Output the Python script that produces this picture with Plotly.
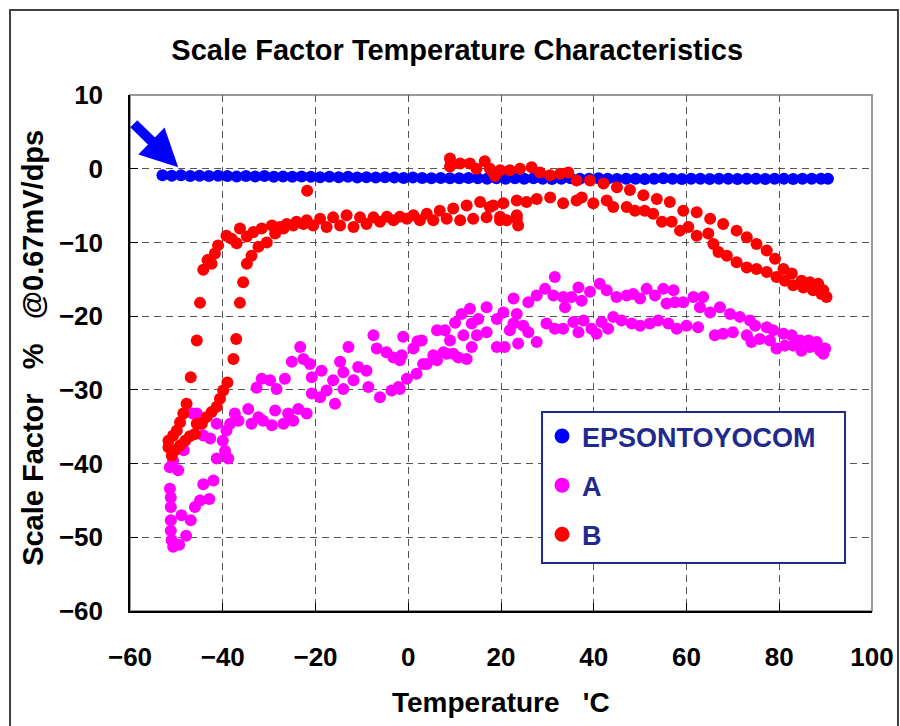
import plotly.graph_objects as go

# ---------------- data ----------------
epson_t = [-53, -51, -49, -47, -45, -43, -41, -39, -37, -35, -33, -31, -29, -27, -25, -23, -21, -19, -17, -15,
           -13, -11, -9, -7, -5, -3, -1, 1, 3, 5, 7, 9, 11, 13, 15, 17, 19, 21, 23, 25,
           27, 29, 31, 33, 35, 37, 39, 41, 43, 45, 47, 49, 51, 53, 55, 57, 59, 61, 63, 65,
           67, 69, 71, 73, 75, 77, 79, 81, 83, 85, 87, 89, 90.5]
epson_v = [-0.9, -0.95, -0.9, -1.0, -0.95, -1.0, -0.95, -1.0, -1.05, -1.0, -1.05, -1.0, -1.1, -1.05, -1.1, -1.05, -1.1, -1.15, -1.1, -1.15,
           -1.1, -1.2, -1.15, -1.2, -1.15, -1.2, -1.25, -1.2, -1.25, -1.3, -1.25, -1.3, -1.3, -1.25, -1.3, -1.35, -1.3, -1.35, -1.3, -1.35,
           -1.3, -1.35, -1.4, -1.35, -1.3, -1.35, -1.35, -1.3, -1.35, -1.4, -1.35, -1.35, -1.4, -1.35, -1.3, -1.35, -1.4, -1.35, -1.35, -1.4,
           -1.35, -1.35, -1.4, -1.35, -1.35, -1.4, -1.35, -1.35, -1.4, -1.35, -1.35, -1.35, -1.35]

a_t = [-51.4, -51.2, -51.2, -51.2, -51.2, -51.0, -50.7, -49.4, -47.9, -48.9, -46.9, -46.0, -44.9, -42.9, -44.2, -42.0,
       -51.4, -49.6, -50.7, -48.4, -41.3, -38.8, -39.5, -40.0, -42.7, -44.2, -45.6, -46.5, -44.9, -41.3, -39.2, -37.4,
       -38.4, -36.6, -34.5, -33.8, -32.3, -31.3, -29.4, -28.7, -26.9, -25.9, -24.8, -23.7, -21.9, -32.7, -31.6, -29.8,
       -28.4, -26.6, -25.1, -23.3, -22.6, -21.2, -20.8, -20.8, -18.7, -17.6, -19.0, -15.8, -16.2, -14.7, -14.0, -12.9,
       -14.0, -11.8, -10.8, -9.0, -8.6, -7.5, -6.8, -6.1, -4.7, -3.6, -3.2, -2.1, -1.1, -1.4, -0.3, 1.1, 1.8, 2.0, -1.8, -1.8,
       2.9, 4.0, 3.2, 5.4, 6.2, 6.2, 7.6, 7.9, 8.3, 9.7, 10.1, 9.0, 10.8, 11.5, 11.9, 12.6, 13.3, 13.7, 13.7, 15.1,
       14.8, 16.9, 16.9, 19.1, 19.1, 20.5, 20.8, 21.9, 22.7, 22.7, 23.4, 23.7, 24.8, 25.9, 25.9, 27.7, 27.7, 29.5,
       29.8, 31.3, 31.6, 31.6, 33.4, 33.8, 33.4, 35.2, 35.6, 36.7, 36.7, 37.4, 37.8, 39.2, 39.5, 40.6, 41.3, 41.7,
       42.8, 43.1, 44.2, 44.9, 46.0, 47.1, 48.2, 48.5, 50.0, 50.0, 51.4, 52.1, 53.2, 53.9, 55.0, 55.7, 56.1, 57.2,
       57.5, 57.9, 59.3, 60.0, 61.5, 62.5, 62.9, 63.6, 65.1, 66.1, 67.2, 67.9, 69.4, 70.0, 71.5, 73.0, 73.7, 74.8,
       74.0, 75.8, 77.3, 78.7, 78.0, 79.4, 80.9, 81.2, 82.7, 83.0, 84.5, 84.8, 86.3, 86.6, 88.1, 88.8, 89.9, 89.5]
a_v = [-43.4, -44.6, -45.9, -47.7, -49.1, -50.4, -51.3, -51.0, -49.8, -47.0, -47.7, -45.9, -45.0, -44.8, -42.8, -42.3,
       -40.5, -40.9, -39.6, -38.2, -39.3, -39.3, -38.3, -36.9, -36.6, -36.2, -33.2, -33.2, -34.6, -34.6, -35.5, -33.2,
       -34.6, -34.2, -32.6, -34.6, -33.7, -34.2, -34.8, -32.8, -34.6, -33.2, -34.2, -32.6, -33.2, -29.7, -28.5, -28.7,
       -29.9, -28.5, -26.2, -24.2, -25.8, -26.5, -28.3, -30.5, -27.4, -30.1, -31.0, -31.9, -28.7, -26.2, -27.6, -24.2,
       -29.9, -28.7, -26.9, -27.4, -29.6, -22.6, -24.4, -31.0, -24.9, -30.1, -25.6, -29.6, -22.8, -25.3, -28.5, -24.4, -27.8, -23.4, -26.0, -29.9,
       -23.3, -26.5, -26.5, -25.3, -21.9, -26.0, -24.9, -21.9, -25.1, -25.1, -20.9, -23.3, -25.6, -19.7, -22.6, -25.8, -19.0, -21.0, -24.2, -20.4,
       -22.6, -18.8, -22.2, -20.4, -24.2, -19.5, -24.2, -21.9, -17.6, -21.0, -19.7, -23.7, -21.3, -18.1, -22.2, -17.2, -23.5, -16.3,
       -21.0, -17.2, -14.7, -21.7, -17.4, -18.8, -21.7, -17.4, -20.8, -16.1, -22.2, -17.9, -20.6, -16.7, -21.7, -22.4, -15.6, -20.8,
       -16.5, -21.7, -20.1, -17.4, -20.6, -17.2, -21.0, -17.0, -17.6, -21.3, -16.3, -21.0, -17.2, -20.6, -16.3, -18.3, -21.0, -16.5,
       -18.1, -21.7, -18.1, -21.3, -17.4, -21.5, -18.8, -17.4, -19.5, -22.6, -18.8, -22.4, -19.7, -22.2, -20.1, -22.6, -20.6, -21.3,
       -23.5, -23.1, -21.5, -21.9, -23.3, -24.4, -22.4, -24.0, -22.6, -24.0, -23.3, -24.7, -23.3, -24.2, -23.5, -24.7, -24.4, -25.1]

b_t = [-51.7, -51.7, -51.0, -50.3, -50.7, -49.9, -49.2, -49.2, -48.5, -48.1, -47.8, -47.1, -46.9, -46.0, -45.6, -45.6,
       -44.9, -44.5, -44.2, -43.5, -43.3, -42.4, -42.4, -41.7, -41.3, -41.0, -40.6, -39.9, -39.2, -39.0, -38.1, -37.7,
       -37.1, -37.0, -36.3, -36.3, -35.6, -34.8, -34.8, -33.8, -33.4, -32.3, -31.6, -30.5, -29.4, -28.7, -27.7, -26.9,
       -26.2, -24.8, -24.1, -22.6, -21.9, -21.8, -20.5, -19.0, -17.6, -16.2, -14.7, -13.3, -11.8, -10.4, -9.0, -7.5,
       -6.1, -4.6, -3.2, -1.8, -0.3, 1.1, 2.5, 4.0, 5.4, 6.8, 8.3, 9.7, 11.2, 12.6, 14.0, 15.5, 16.9, 17.6, 18.3,
       19.8, 19.8, 20.5, 21.2, 23.4, 23.4, 23.7, 23.4, 25.5, 27.7, 30.6, 33.4, 36.3, 37.4, 39.9, 42.8, 44.2, 47.1,
       48.9, 51.0, 52.8, 54.7, 56.8, 58.6, 60.4, 62.2, 64.7, 65.8, 66.9, 68.7, 70.8, 73.0, 75.1, 77.3, 79.4, 81.2,
       83.0, 85.2, 87.3, 89.1, 90.2, 89.5, 88.4, 86.6, 84.8, 82.7, 80.9, 79.1, 77.3, 75.1, 73.0, 70.8, 67.9, 65.1,
       62.2, 59.3, 56.4, 53.6, 50.7, 47.8, 45.0, 42.1, 39.2, 36.3, 34.5, 32.7, 30.6, 28.4, 26.6, 24.1, 21.9, 19.8,
       18.7, 18.3, 17.6, 16.5, 14.7, 13.3, 11.2, 9.0, 9.0]
b_v = [-37.8, -36.9, -38.9, -38.2, -36.2, -35.5, -37.5, -34.4, -33.2, -36.9, -31.9, -36.3, -28.3, -36.0, -34.6, -23.3,
       -18.2, -34.6, -13.7, -33.7, -12.4, -33.0, -12.9, -11.5, -32.3, -10.4, -31.2, -30.1, -9.1, -29.0, -9.5, -25.8,
       -23.1, -10.1, -18.2, -8.1, -15.4, -12.9, -9.2, -11.8, -8.6, -10.6, -8.1, -10.0, -7.7, -8.8, -7.9, -8.1,
       -7.5, -7.7, -7.2, -7.5, -7.0, -3.0, -7.7, -6.8, -7.9, -6.6, -7.7, -6.3, -7.9, -6.6, -7.5, -6.6,
       -7.2, -6.5, -7.0, -6.5, -6.8, -6.3, -7.0, -6.1, -7.0, -5.7, -6.8, -5.4, -7.0, -5.0, -6.8, -4.5, -6.6, -5.2, -5.0,
       -6.5, -7.0, -4.7, -7.0, -4.3, -6.8, -7.7, -6.3, -4.5, -4.1, -3.9, -4.7, -4.3, -3.9, -4.7, -4.3, -5.2, -5.2,
       -5.7, -5.7, -6.1, -7.2, -7.2, -8.4, -7.9, -9.1, -8.8, -10.2, -11.3, -11.8, -12.7, -13.4, -13.6, -14.0, -14.7, -15.2,
       -15.8, -16.1, -16.5, -17.0, -17.4, -16.5, -15.6, -15.4, -15.2, -14.2, -13.6, -12.2, -11.1, -10.2, -9.3, -8.4, -7.5, -6.8,
       -5.9, -5.7, -4.5, -4.1, -3.6, -2.9, -2.5, -2.0, -1.6, -1.6, -0.5, -0.7, -0.9, -0.5, 0.2, 0.0, -0.2, -0.2,
       -1.0, -0.5, 0.0, 1.0, 0.0, 0.7, 0.7, 0.3, 1.4]

series_names = ["EPSONTOYOCOM", "A", "B"]
series_colors = ["#0000FF", "#FF00FF", "#FF0000"]

x_ticks = [-60, -40, -20, 0, 20, 40, 60, 80, 100]
y_ticks = [10, 0, -10, -20, -30, -40, -50, -60]

FONT = "Liberation Sans, Arial, sans-serif"
NAVY = "#1F2A8C"

fig = go.Figure()
data = [(epson_t, epson_v), (a_t, a_v), (b_t, b_v)]
for (xs, ys), name, col in zip(data, series_names, series_colors):
    fig.add_trace(go.Scatter(x=xs, y=ys, mode="markers", name=name, showlegend=False,
                             marker=dict(color=col, size=12, line=dict(width=0))))
# legend entries
for name, col in zip(series_names, series_colors):
    fig.add_trace(go.Scatter(x=[None], y=[None], mode="markers", name=name, legendgroup=name,
                             marker=dict(color=col, size=15, line=dict(width=0))))

axis_common = dict(
    showgrid=True, gridcolor="#555555", gridwidth=1.3, griddash="7px,5px",
    showline=True, linecolor="#000000", linewidth=1.5,
    ticks="inside", ticklen=8, tickcolor="#000000", tickwidth=1.3,
    zeroline=False, automargin=False,
    tickfont=dict(family=FONT, size=26, color="#000000", weight="bold"),
)
fig.update_xaxes(range=[-60, 100], tickvals=x_ticks, ticklabelstandoff=22, **axis_common)
fig.update_yaxes(range=[-60, 10], tickvals=y_ticks, ticklabelstandoff=20, **axis_common)

fig.update_layout(
    width=900, height=726,
    margin=dict(l=130, r=28, t=95, b=115, autoexpand=False),
    paper_bgcolor="white", plot_bgcolor="white",
    font=dict(family=FONT, color="#000000"),
    title=dict(text="Scale Factor Temperature Characteristics", x=0.508, xanchor="center",
               y=1 - 50 / 726, yanchor="middle", xref="container", yref="container",
               font=dict(family=FONT, size=29, color="#000000", weight="bold")),
    legend=dict(x=0.5553, y=0.3857, xanchor="left", yanchor="top",
                bgcolor="rgba(0,0,0,0)", borderwidth=0,
                font=dict(family=FONT, size=27, color=NAVY, weight="bold"),
                tracegroupgap=11, itemsizing="trace"),
    showlegend=True,
)

# plot area top/right border (grey) and outer chart border
fig.add_shape(type="rect", xref="paper", yref="paper", x0=0, x1=1, y0=0, y1=1,
              line=dict(color="#9A9A9A", width=2), layer="below")
fig.add_shape(type="rect", xref="paper", yref="paper", x0=-0.1617, x1=1.035, y0=-0.235, y1=1.1647,
              line=dict(color="#404040", width=2), layer="below")
# legend box
fig.add_shape(type="rect", xref="paper", yref="paper", x0=0.5553, x1=0.9636, y0=0.093, y1=0.3857,
              line=dict(color=NAVY, width=2), fillcolor="white", layer="above")

# axis titles
fig.add_annotation(text="Temperature\u00a0\u00a0\u00a0'C", xref="paper", yref="paper", x=0.5, y=-0.178,
                   showarrow=False, font=dict(family=FONT, size=28, color="#000000", weight="bold"),
                   yanchor="middle")
fig.add_annotation(text="Scale Factor\u00a0\u00a0\u00a0%\u00a0\u00a0\u00a0@0.67mV/dps", xref="paper", yref="paper",
                   x=-0.1307, y=0.51, textangle=-90, showarrow=False, xanchor="center", yanchor="middle",
                   font=dict(family=FONT, size=29, color="#000000", weight="bold"))

# blue arrow
fig.add_annotation(x=-49.6, y=0.2, xref="x", yref="y", ax=-46, ay=-45, axref="pixel", ayref="pixel",
                   showarrow=True, arrowhead=2, arrowsize=0.75, arrowwidth=10, arrowcolor="#0000FF",
                   text="")

fig.write_html("out.html", config={"displayModeBar": False},
               post_script="document.body.style.margin='0';")
